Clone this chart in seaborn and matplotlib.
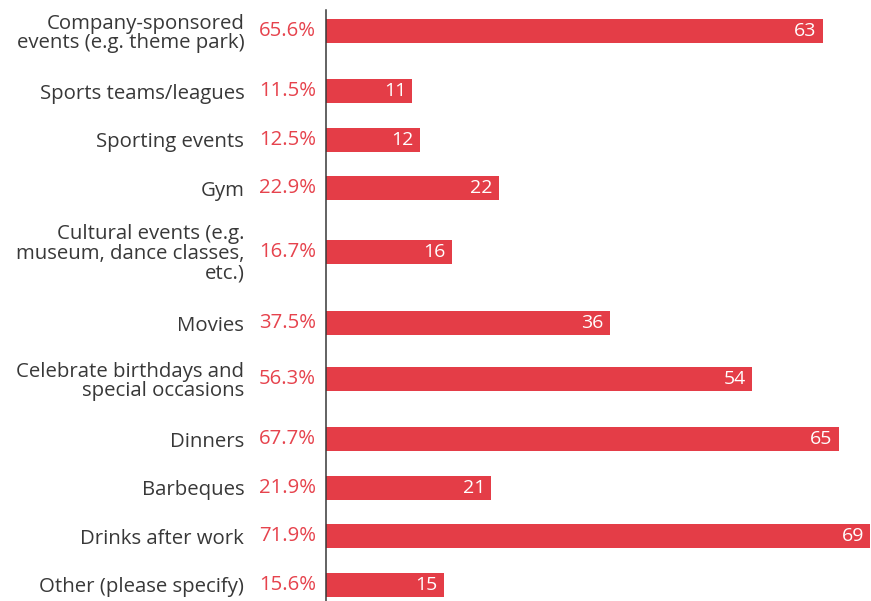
import math
import numpy as np
import pandas as pd
import matplotlib
matplotlib.use("Agg")
import matplotlib.pyplot as plt
import seaborn as sns

# Survey: which company social activities respondents take part in
categories = [
    "Company-sponsored\nevents (e.g. theme park)",
    "Sports teams/leagues",
    "Sporting events",
    "Gym",
    "Cultural events (e.g.\nmuseum, dance classes,\netc.)",
    "Movies",
    "Celebrate birthdays and\nspecial occasions",
    "Dinners",
    "Barbeques",
    "Drinks after work",
    "Other (please specify)",
]
counts = [63, 11, 12, 22, 16, 36, 54, 65, 21, 69, 15]
respondents = 96

BAR_COLOR = "#E43D47"
PCT_COLOR = "#E6434D"
TEXT_COLOR = "#383838"
FONT_SIZE = 14.7

sns.set_theme(style="white")
plt.rcParams["font.family"] = ["Open Sans", "DejaVu Sans"]

# Row layout: rows with multi-line labels get extra room (pixel units)
def row_centers(labels, first=21.5, base=24.25, extra_above=7.5, extra_below=11.5):
    centers = []
    prev_lines = None
    y = first
    for lab in labels:
        n = lab.count("\n") + 1
        if prev_lines is not None:
            y += base + extra_below * (prev_lines - 1) + base + extra_above * (n - 1)
        centers.append(y)
        prev_lines = n
    return centers

def pct_label(count, total):
    # round half up to one decimal
    return f"{math.floor(count / total * 1000 + 0.5) / 10:.1f}%"

positions = row_centers(categories)

df = pd.DataFrame({"activity": categories, "count": counts, "pos": positions})

W, H = 871, 601
fig = plt.figure(figsize=(W / 100, H / 100), dpi=100)
ax_left = 325.5 / W
ax_top_px = 9.5
ax = fig.add_axes([ax_left, 0.0, 1.0 - ax_left, 1.0 - ax_top_px / H])

bar_px = 24.0
min_gap = np.min(np.diff(sorted(positions)))
sns.barplot(data=df, x="count", y="pos", orient="y", native_scale=True,
            width=bar_px / min_gap, color=BAR_COLOR, saturation=1,
            errorbar=None, ax=ax, linewidth=0)

ax.set_xlim(0, 69.1)
ax.set_ylim(H - ax_top_px, 0)

ax.set_xlabel("")
ax.set_ylabel("")
ax.set_xticks([])
ax.set_yticks(positions)
ax.set_yticklabels(categories, fontsize=FONT_SIZE, color=TEXT_COLOR, linespacing=0.98)
ax.tick_params(axis="y", length=0, pad=58.5)

for side in ["top", "right", "bottom"]:
    ax.spines[side].set_visible(False)
ax.spines["left"].set_color(TEXT_COLOR)
ax.spines["left"].set_linewidth(1.1)

# Percentage of respondents, between the labels and the axis line
for y, c in zip(positions, counts):
    ax.annotate(pct_label(c, respondents), xy=(0, y), xycoords=("axes fraction", "data"),
                xytext=(-7, 0), textcoords="offset points",
                ha="right", va="center", fontsize=FONT_SIZE, color=PCT_COLOR)

# Raw counts inside the bar ends
for y, c in zip(positions, counts):
    ax.annotate(f"{c}", xy=(c, y), xycoords="data",
                xytext=(-4.5, 0), textcoords="offset points",
                ha="right", va="center", fontsize=FONT_SIZE - 0.7, color="white")

fig.savefig("out.png", dpi=100)
